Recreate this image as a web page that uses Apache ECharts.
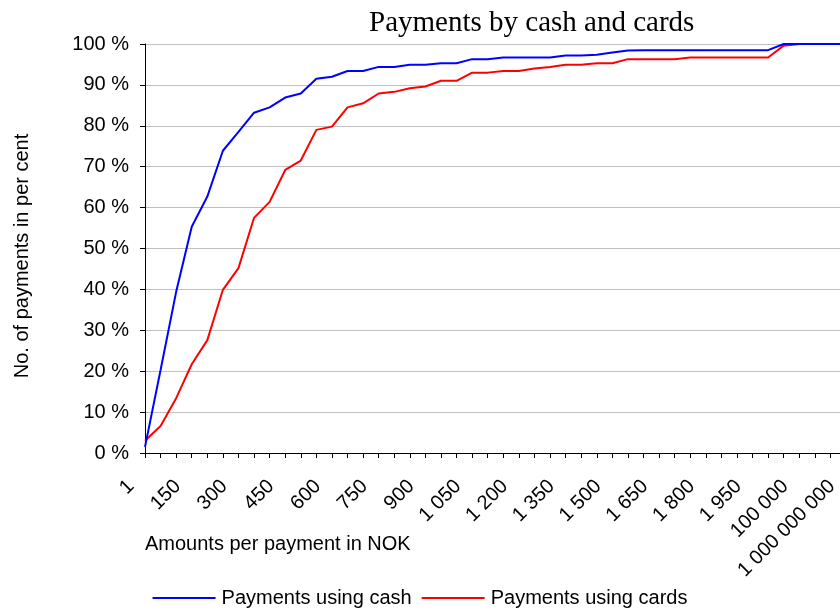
<!DOCTYPE html>
<html>
<head>
<meta charset="utf-8">
<script src="https://cdn.jsdelivr.net/npm/echarts@6/dist/echarts.min.js"></script>
<style>
    html, body { margin: 0; padding: 0; background: #fff; }
    #chart { width: 840px; height: 610px; }
</style>
</head>
<body>
<div id="chart"></div>
<script>
// amounts in NOK (x categories)
const amounts = [1, 50, 100, 150, 200, 250, 300, 350, 400, 450, 500, 550, 600, 650, 700,
    750, 800, 850, 900, 950, 1000, 1050, 1100, 1150, 1200, 1250, 1300, 1350, 1400, 1450,
    1500, 1550, 1600, 1650, 1700, 1750, 1800, 1850, 1900, 1950, 2000,
    10000, 100000, 1000000, 100000000, 1000000000];

// cumulative share of payments, per cent
const cashShare = [1.5, 20.3, 39.4, 55.3, 62.7, 73.9, 78.5, 83.2, 84.5, 86.9, 87.9, 91.5, 92.0, 93.4, 93.4,
    94.4, 94.4, 94.9, 94.9, 95.3, 95.3, 96.3, 96.3, 96.7, 96.7, 96.7, 96.7, 97.2, 97.2, 97.4,
    97.9, 98.4, 98.5, 98.5, 98.5, 98.5, 98.5, 98.5, 98.5, 98.5, 98.5,
    100, 100, 100, 100, 100];

const cardShare = [3.0, 6.6, 13.4, 21.7, 27.6, 39.9, 45.2, 57.5, 61.4, 69.2, 71.5, 79.0, 79.8, 84.5, 85.5,
    87.9, 88.3, 89.2, 89.6, 91.0, 91.0, 93.0, 93.0, 93.4, 93.4, 94.0, 94.4, 94.9, 94.9, 95.3,
    95.3, 96.3, 96.3, 96.3, 96.3, 96.7, 96.7, 96.7, 96.7, 96.7, 96.7,
    99.6, 100, 100, 100, 100];

const seriesNames = ['Payments using cash', 'Payments using cards'];

const FONT = '"Liberation Sans", Arial, sans-serif';

// 1050 -> "1 050"
function spaced(v) {
    return String(v).replace(/\B(?=(\d{3})+(?!\d))/g, ' ');
}

const chart = echarts.init(document.getElementById('chart'), null, { renderer: 'canvas' });

chart.setOption({
    animation: false,
    backgroundColor: '#fff',
    title: {
        text: 'Payments by cash and cards',
        left: 364,
        top: 4,
        textStyle: {
            fontFamily: '"Liberation Serif", "Times New Roman", serif',
            fontSize: 29,
            fontWeight: 'normal',
            color: '#000'
        }
    },
    legend: {
        data: seriesNames,
        left: 'center',
        top: 583,
        icon: 'rect',
        itemWidth: 63,
        itemHeight: 2,
        itemGap: 10,
        textStyle: { fontFamily: FONT, fontSize: 20, color: '#000', padding: [0, 0, 0, 1] }
    },
    graphic: [
        {
            type: 'text',
            left: 145,
            top: 534,
            style: { text: 'Amounts per payment in NOK', fontFamily: FONT, fontSize: 20, fill: '#000' }
        },
        {
            type: 'text',
            x: 22,
            y: 256,
            rotation: Math.PI / 2,
            style: {
                text: 'No. of payments in per cent',
                fontFamily: FONT,
                fontSize: 20,
                fill: '#000',
                align: 'center',
                verticalAlign: 'middle'
            }
        }
    ],
    grid: {
        left: 145,
        top: 44,
        right: -6,
        bottom: 157,
        outerBoundsMode: 'none'
    },
    xAxis: {
        type: 'category',
        data: amounts,
        boundaryGap: false,
        axisLine: { lineStyle: { color: '#000', width: 1 } },
        axisTick: { interval: 0, length: 5, lineStyle: { color: '#000' } },
        axisLabel: {
            interval: 2,
            rotate: 45,
            margin: 16,
            padding: [0, 20, 0, 0],
            fontFamily: FONT,
            fontSize: 20,
            color: '#000',
            formatter: spaced
        },
        splitLine: { show: false }
    },
    yAxis: {
        type: 'value',
        min: 0,
        max: 100,
        interval: 10,
        axisLine: { show: true, lineStyle: { color: '#000', width: 1 } },
        axisTick: { show: true, length: 5, lineStyle: { color: '#000' } },
        axisLabel: {
            margin: 16,
            fontFamily: FONT,
            fontSize: 20,
            color: '#000',
            formatter: '{value} %'
        },
        splitLine: { lineStyle: { color: '#c0c0c0', width: 1 } }
    },
    series: [
        {
            name: seriesNames[0],
            type: 'line',
            data: cashShare,
            symbol: 'none',
            color: '#0000ff',
            lineStyle: { color: '#0000ff', width: 2 },
            z: 3
        },
        {
            name: seriesNames[1],
            type: 'line',
            data: cardShare,
            symbol: 'none',
            color: '#ff0000',
            lineStyle: { color: '#ff0000', width: 2 },
            z: 2
        }
    ]
});
</script>
</body>
</html>
